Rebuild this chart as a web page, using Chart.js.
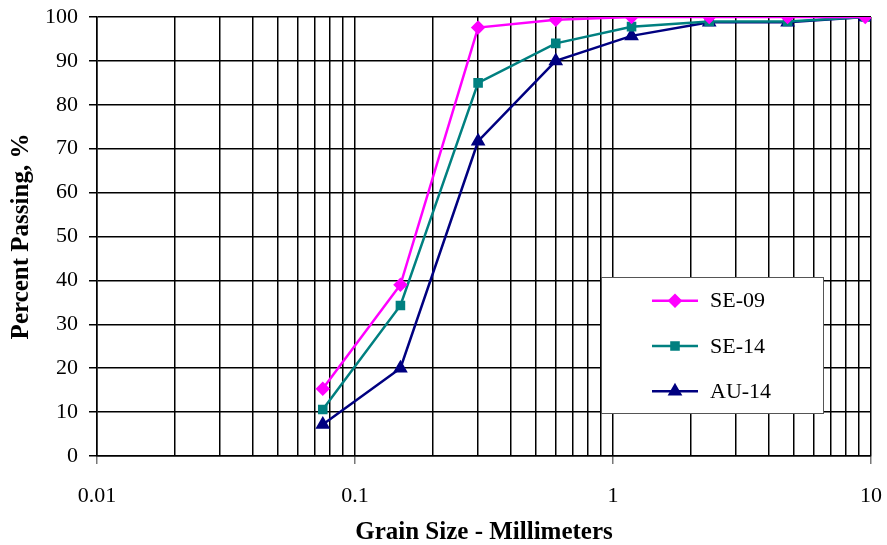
<!DOCTYPE html>
<html>
<head>
<meta charset="utf-8">
<script src="https://cdn.jsdelivr.net/npm/chart.js@4/dist/chart.umd.min.js"></script>
<style>
  html, body { margin: 0; padding: 0; background: #fff; }
  #wrap { width: 887px; height: 545px; position: relative; }
</style>
</head>
<body>
<div id="wrap"><canvas id="c"></canvas></div>
<script>
// sieve sizes (mm) and percent passing
const grainSizes = [0.075, 0.15, 0.3, 0.6, 1.18, 2.36, 4.75, 9.5];
const se09 = [15.3, 39, 97.6, 99.4, 100, 100, 100, 100];
const se14 = [10.6, 34.3, 85, 94, 97.8, 99, 99, 100];
const au14 = [7.2, 20, 71.7, 90, 95.7, 98.8, 98.8, 100];
const seriesNames = ['SE-09', 'SE-14', 'AU-14'];
const yTicks = [0, 10, 20, 30, 40, 50, 60, 70, 80, 90, 100];
const xDecades = [0.01, 0.1, 1, 10];
const xGridSteps = [1, 2, 3, 4, 5, 6, 7, 8, 9];

const FONT = "'Liberation Serif', 'Times New Roman', serif";
const isDecade = v => Math.abs(Math.log10(v) - Math.round(Math.log10(v))) < 1e-6;
const pts = arr => grainSizes.map((x, i) => ({ x, y: arr[i] }));
const xGrid = xDecades.slice(0, -1).flatMap(d => xGridSteps.map(k => +(d * k).toPrecision(3))).concat([xDecades[xDecades.length - 1]]);

function mkSet(label, arr, color, style, radius) {
  return { label, data: pts(arr), borderColor: color, backgroundColor: color, borderWidth: 2.5,
    pointStyle: style, pointRadius: radius, pointHoverRadius: radius, tension: 0 };
}

// legend box drawn inside the plot area
const boxLegend = {
  id: 'boxLegend',
  afterDatasetsDraw(chart) {
    const { ctx, chartArea: a } = chart;
    const w = a.right - a.left, h = a.bottom - a.top;
    const x0 = Math.round(a.left + w * 0.651), x1 = Math.round(a.left + w * 0.938);
    const y0 = Math.round(a.top + h * 0.592), y1 = Math.round(a.top + h * 0.902);
    ctx.save();
    ctx.fillStyle = '#fff';
    ctx.fillRect(x0, y0, x1 - x0, y1 - y0);
    ctx.strokeStyle = '#555'; ctx.lineWidth = 1;
    ctx.strokeRect(x0 + 0.5, y0 + 0.5, x1 - x0, y1 - y0);
    const rowH = (y1 - y0) / 3;
    chart.data.datasets.forEach((ds, i) => {
      const cy = y0 + rowH * (i + 0.5) + 1;
      ctx.strokeStyle = ds.borderColor; ctx.lineWidth = 2.5;
      ctx.beginPath(); ctx.moveTo(x0 + 51, cy); ctx.lineTo(x0 + 97, cy); ctx.stroke();
      Chart.helpers.drawPoint(ctx, { pointStyle: ds.pointStyle, radius: ds.pointRadius, borderWidth: 1, rotation: 0 }, x0 + 74, cy);
      ctx.fillStyle = ds.borderColor; ctx.fill();
      ctx.fillStyle = '#000'; ctx.font = '22px ' + FONT; ctx.textBaseline = 'middle'; ctx.textAlign = 'left';
      ctx.fillText(ds.label, x0 + 109, cy + 1);
    });
    ctx.restore();
  }
};

new Chart(document.getElementById('c'), {
  type: 'line',
  data: { datasets: [
    mkSet(seriesNames[0], se09, '#FF00FF', 'rectRot', 5.5),
    mkSet(seriesNames[1], se14, '#008080', 'rect', 5),
    mkSet(seriesNames[2], au14, '#000080', 'triangle', 6)
  ] },
  options: {
    responsive: true, maintainAspectRatio: false, animation: false,
    layout: { padding: { top: 17, right: 16, left: 0, bottom: 0 } },
    plugins: { legend: { display: false }, tooltip: { enabled: false } },
    scales: {
      x: {
        type: 'logarithmic', min: 0.01, max: 10,
        afterFit: s => { s.height = 89; s.paddingLeft = 0; s.paddingRight = 0; },
        afterBuildTicks: s => { s.ticks = xGrid.map(v => ({ value: v, major: isDecade(v) })); },
        border: { color: '#000', width: 1.5 },
        grid: { color: '#000', lineWidth: 1.5, tickLength: 8,
          tickColor: c => (c.tick && isDecade(c.tick.value)) ? '#777' : 'rgba(0,0,0,0)' },
        ticks: { autoSkip: false, maxRotation: 0, padding: 19, color: '#000',
          font: { family: FONT, size: 22 },
          callback: v => isDecade(v) ? String(+v.toPrecision(3)) : '' },
        title: { display: true, text: 'Grain Size - Millimeters', color: '#000',
          font: { family: FONT, size: 25, weight: 'bold', lineHeight: 1 }, padding: { top: 0, bottom: 0 } }
      },
      y: {
        min: 0, max: 100,
        afterFit: s => { s.width = 97; s.paddingTop = 0; s.paddingBottom = 0; },
        afterBuildTicks: s => { s.ticks = yTicks.map(v => ({ value: v })); },
        border: { color: '#000', width: 1.5 },
        grid: { color: '#000', lineWidth: 1.5, tickLength: 8, tickColor: '#000' },
        ticks: { padding: 11, color: '#000', font: { family: FONT, size: 22 } },
        title: { display: true, text: 'Percent Passing, %', color: '#000',
          font: { family: FONT, size: 25, weight: 'bold', lineHeight: 1 }, padding: { top: 9, bottom: 0 } }
      }
    }
  },
  plugins: [boxLegend]
});
</script>
</body>
</html>
